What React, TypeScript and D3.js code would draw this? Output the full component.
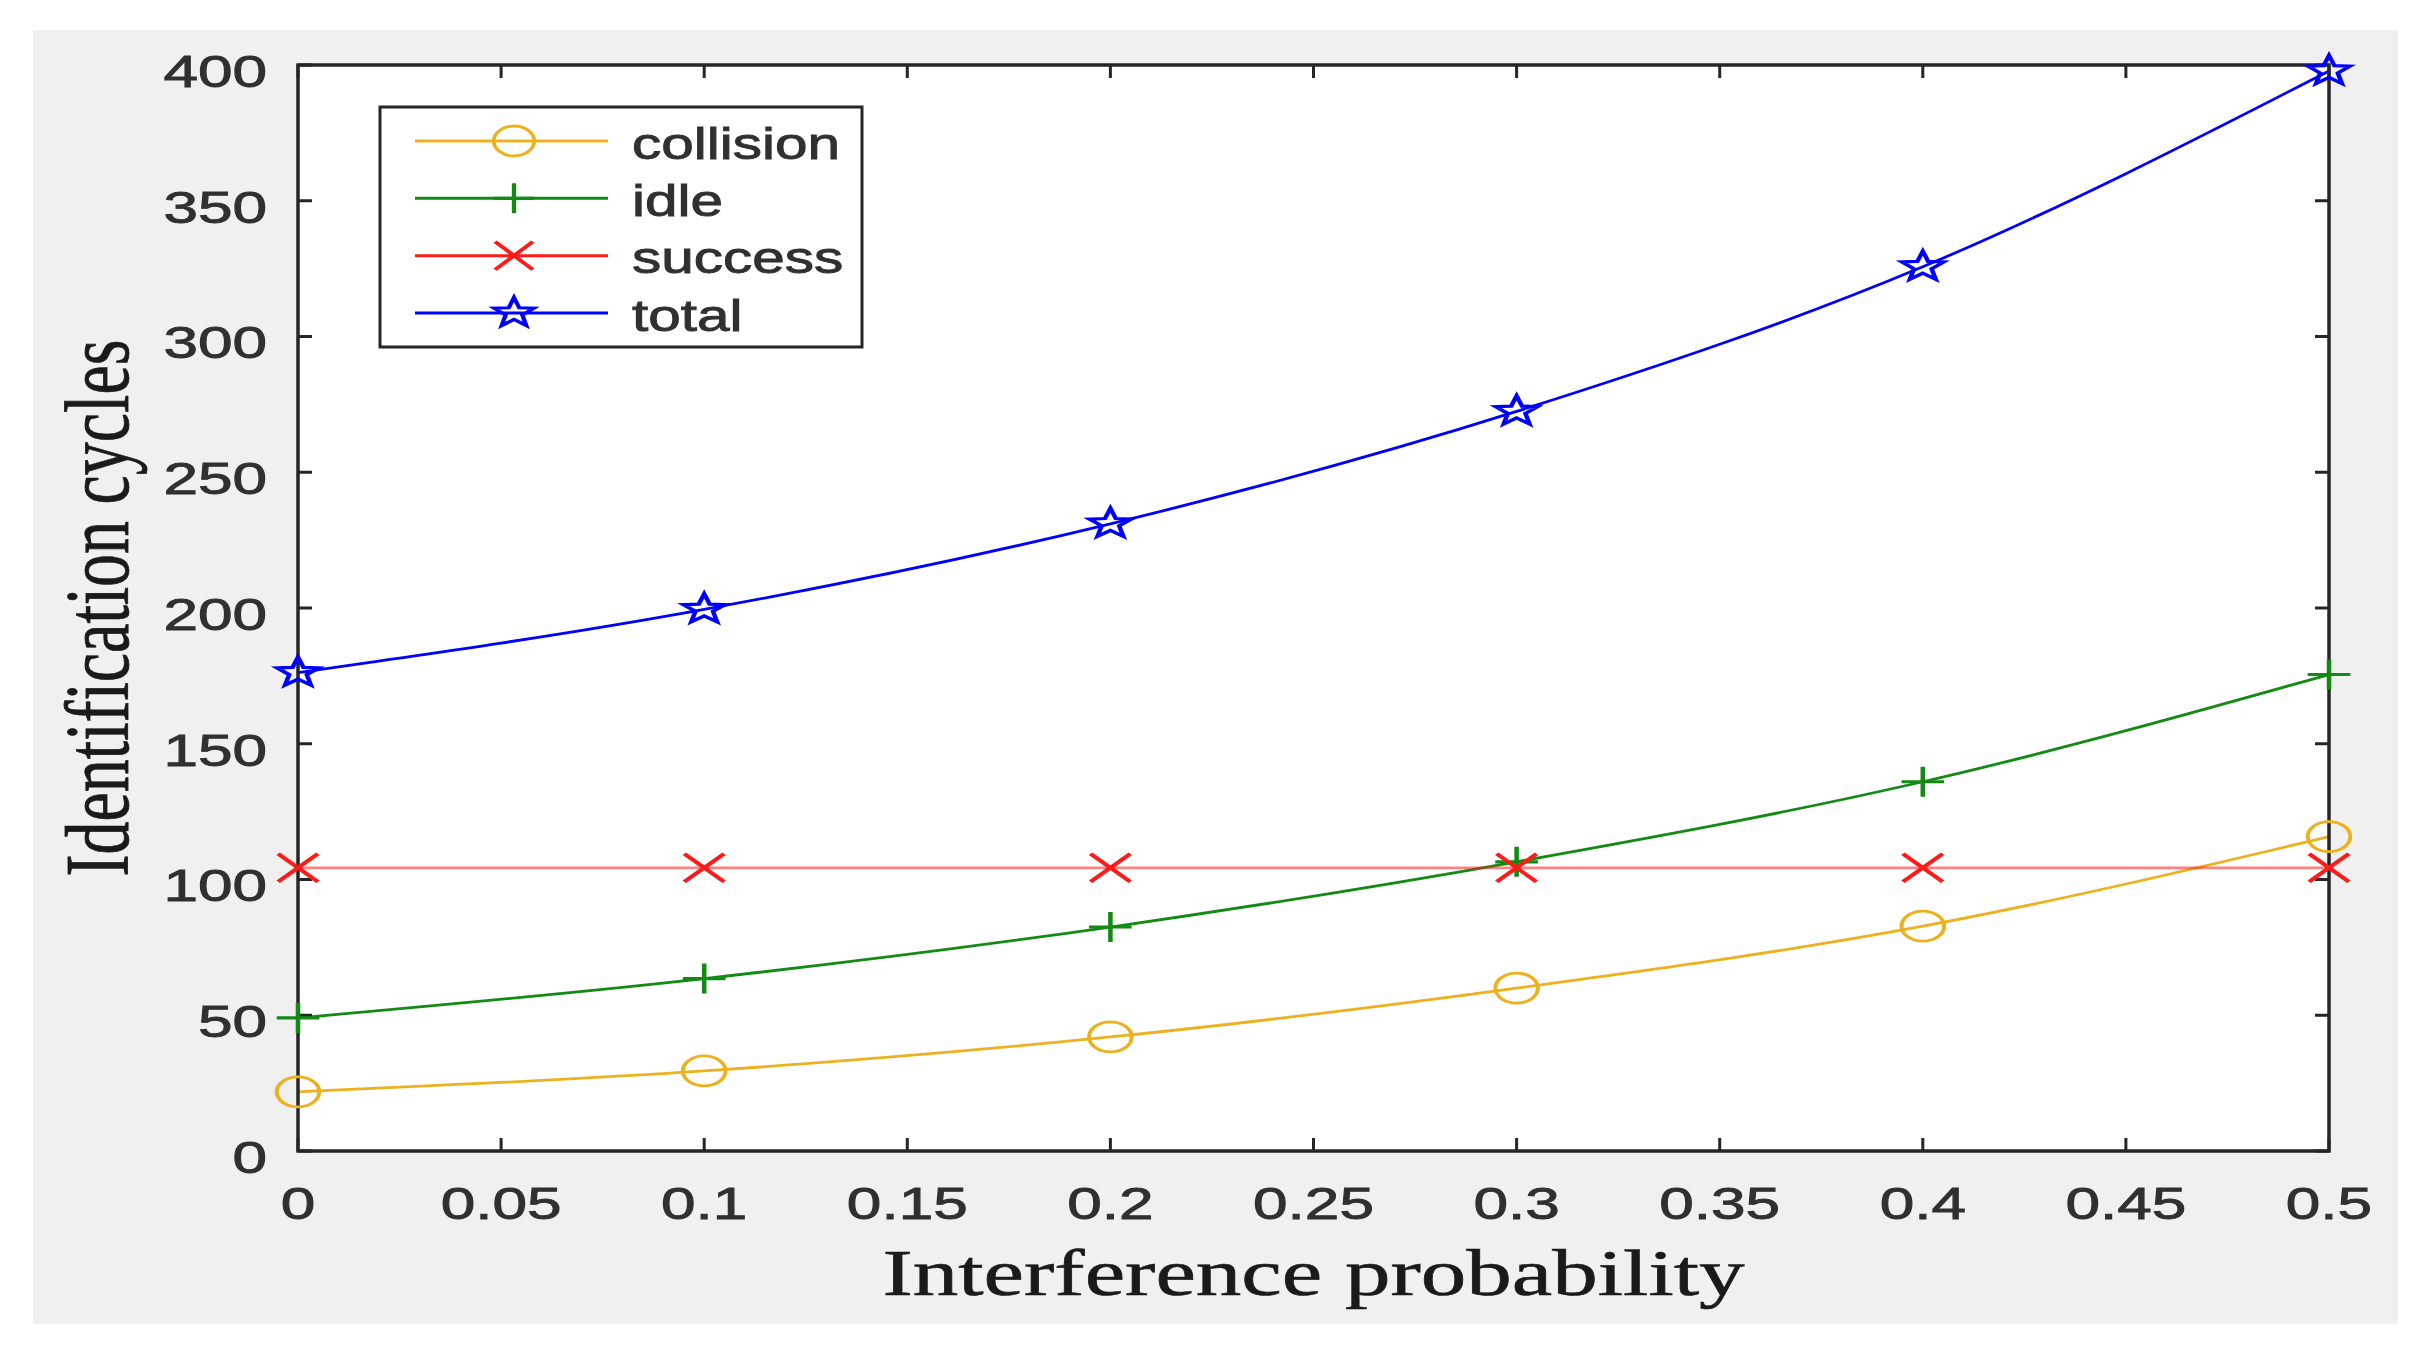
import React, { useEffect, useRef } from 'react'
import * as d3 from 'd3'

// interference probability (x) and the four counts per step
const xValues = [0, 0.1, 0.2, 0.3, 0.4, 0.5]
const collision = [21.8, 29.5, 42, 60, 82.8, 115.8]
const idle = [49, 63.5, 82.5, 106.5, 136, 175.5]
const success = [104.3, 104.3, 104.3, 104.3, 104.3, 104.3]
const total = [176.2, 199.5, 231, 272.4, 325.7, 397.8]

const seriesNames = ['collision', 'idle', 'success', 'total']
const seriesValues = [collision, idle, success, total]
const seriesColors = ['#EDB120', '#138a13', '#ff1a1a', '#0000ff']
const seriesMarkers = ['circle', 'plus', 'cross', 'star']

const xTicks = [0, 0.05, 0.1, 0.15, 0.2, 0.25, 0.3, 0.35, 0.4, 0.45, 0.5]
const xTickLabels = ['0', '0.05', '0.1', '0.15', '0.2', '0.25', '0.3', '0.35', '0.4', '0.45', '0.5']
const yTicks = [0, 50, 100, 150, 200, 250, 300, 350, 400]
const yTickLabels = ['0', '50', '100', '150', '200', '250', '300', '350', '400']

const xLabel = 'Interference probability'
const yLabel = 'Identification cycles'

const W = 2431
const H = 1362
const plot = { left: 298, right: 2329, top: 65, bottom: 1151 }
const sx = 1.38 // the original picture is stretched sideways
const sansFont = '"Liberation Sans", Arial, Helvetica, sans-serif'
const serifFont = '"Liberation Serif", "Times New Roman", serif'

// 5-point star outline, radius r
const starPath = (r: number) => {
    const pts: string[] = []
    for (let i = 0; i < 10; i++) {
        const rr = i % 2 === 0 ? r : r * 0.42
        const a = -Math.PI / 2 + (i * Math.PI) / 5
        pts.push(`${(rr * Math.cos(a)).toFixed(2)},${(rr * Math.sin(a)).toFixed(2)}`)
    }
    return `M${pts.join('L')}Z`
}

const drawMarker = (
    g: d3.Selection<SVGGElement, unknown, null, undefined>,
    kind: string,
    color: string
) => {
    const common = (s: any) =>
        s.attr('fill', 'none').attr('stroke', color).attr('stroke-width', 2.8)
    if (kind === 'circle') {
        common(g.append('circle').attr('r', 15))
    } else if (kind === 'plus') {
        common(g.append('path').attr('d', 'M-15,0H15M0,-15V15')).attr('stroke-width', 3.2)
    } else if (kind === 'cross') {
        common(g.append('path').attr('d', 'M-14,-14L14,14M-14,14L14,-14')).attr('stroke-width', 3.4)
    } else {
        common(g.append('path').attr('d', starPath(15.5))).attr('stroke-width', 3.2)
    }
}

const App: React.FC = () => {
    const svgRef = useRef<SVGSVGElement | null>(null)

    useEffect(() => {
        if (!svgRef.current) return
        const svg = d3.select(svgRef.current)
        svg.selectAll('*').remove()

        const x = d3.scaleLinear().domain([0, 0.5]).range([plot.left, plot.right])
        const y = d3.scaleLinear().domain([0, 400]).range([plot.bottom, plot.top])

        // figure background
        svg.append('rect').attr('width', W).attr('height', H).attr('fill', '#ffffff')
        svg.append('rect')
            .attr('x', 33)
            .attr('y', 30)
            .attr('width', 2398 - 33)
            .attr('height', 1324 - 30)
            .attr('fill', '#f0f0f0')
        svg.append('rect')
            .attr('x', plot.left)
            .attr('y', plot.top)
            .attr('width', plot.right - plot.left)
            .attr('height', plot.bottom - plot.top)
            .attr('fill', '#ffffff')

        // lines
        const line = d3
            .line<number>()
            .x((_, i) => x(xValues[i]))
            .y((d) => y(d))
            .curve(d3.curveMonotoneX)

        seriesValues.forEach((vals, si) => {
            svg.append('path')
                .datum(vals)
                .attr('fill', 'none')
                .attr('stroke', seriesColors[si])
                .attr('stroke-opacity', seriesNames[si] === 'success' ? 0.55 : 1)
                .attr('stroke-width', 2.8)
                .attr('d', line)
        })

        // box + ticks
        const ax = svg.append('g').attr('stroke', '#262626').attr('stroke-width', 3)
        ax.append('rect')
            .attr('x', plot.left)
            .attr('y', plot.top)
            .attr('width', plot.right - plot.left)
            .attr('height', plot.bottom - plot.top)
            .attr('fill', 'none')
            .attr('stroke-width', 3.5)
        xTicks.forEach((t) => {
            ax.append('line').attr('x1', x(t)).attr('x2', x(t)).attr('y1', plot.bottom).attr('y2', plot.bottom - 13)
            ax.append('line').attr('x1', x(t)).attr('x2', x(t)).attr('y1', plot.top).attr('y2', plot.top + 13)
        })
        yTicks.forEach((t) => {
            ax.append('line').attr('y1', y(t)).attr('y2', y(t)).attr('x1', plot.left).attr('x2', plot.left + 14)
            ax.append('line').attr('y1', y(t)).attr('y2', y(t)).attr('x1', plot.right).attr('x2', plot.right - 14)
        })

        // markers
        seriesValues.forEach((vals, si) => {
            vals.forEach((v, i) => {
                const g = svg
                    .append('g')
                    .attr('transform', `translate(${x(xValues[i])},${y(v)}) scale(1.42,1)`)
                drawMarker(g, seriesMarkers[si], seriesColors[si])
            })
        })

        // tick labels (slight stroke: the scan is heavy)
        xTicks.forEach((t, i) => {
            svg.append('text')
                .attr('transform', `translate(${x(t)},1219) scale(${sx},1)`)
                .attr('text-anchor', 'middle')
                .attr('font-family', sansFont)
                .attr('font-size', 45)
                .attr('fill', '#303030')
                .attr('stroke', '#303030')
                .attr('stroke-width', 0.9)
                .text(xTickLabels[i])
        })
        yTicks.forEach((t, i) => {
            svg.append('text')
                .attr('transform', `translate(267,${y(t) + 6}) scale(${sx},1)`)
                .attr('text-anchor', 'end')
                .attr('dominant-baseline', 'central')
                .attr('font-family', sansFont)
                .attr('font-size', 45)
                .attr('fill', '#303030')
                .attr('stroke', '#303030')
                .attr('stroke-width', 0.9)
                .text(yTickLabels[i])
        })

        // axis titles
        svg.append('text')
            .attr('transform', `translate(${(plot.left + plot.right) / 2},1295) scale(${sx},1)`)
            .attr('text-anchor', 'middle')
            .attr('font-family', serifFont)
            .attr('font-size', 66)
            .attr('fill', '#1a1a1a')
            .attr('stroke', '#1a1a1a')
            .attr('stroke-width', 0.6)
            .text(xLabel)
        svg.append('text')
            .attr('transform', `translate(128,${(plot.top + plot.bottom) / 2}) scale(${sx},1) rotate(-90)`)
            .attr('text-anchor', 'middle')
            .attr('font-family', serifFont)
            .attr('font-size', 66)
            .attr('fill', '#1a1a1a')
            .attr('stroke', '#1a1a1a')
            .attr('stroke-width', 0.6)
            .text(yLabel)

        // legend
        const lg = svg.append('g')
        lg.append('rect')
            .attr('x', 380)
            .attr('y', 107)
            .attr('width', 862 - 380)
            .attr('height', 347 - 107)
            .attr('fill', '#ffffff')
            .attr('stroke', '#262626')
            .attr('stroke-width', 3)
        const rowY = d3.scalePoint<string>().domain(seriesNames).range([141, 313])
        seriesNames.forEach((name, si) => {
            const ry = rowY(name) as number
            lg.append('line')
                .attr('x1', 415)
                .attr('x2', 608)
                .attr('y1', ry)
                .attr('y2', ry)
                .attr('stroke', seriesColors[si])
                .attr('stroke-width', 3)
            const g = lg.append('g').attr('transform', `translate(514,${ry}) scale(1.35,1)`)
            drawMarker(g, seriesMarkers[si], seriesColors[si])
            lg.append('text')
                .attr('transform', `translate(632,${ry + 2}) scale(1.3,1)`)
                .attr('dominant-baseline', 'central')
                .attr('font-family', sansFont)
                .attr('font-size', 45)
                .attr('fill', '#303030')
                .attr('stroke', '#303030')
                .attr('stroke-width', 0.9)
                .text(name)
        })
    }, [])

    return (
        <svg
            ref={svgRef}
            width={W}
            height={H}
            style={{ position: 'absolute', left: 0, top: 0, display: 'block' }}
        ></svg>
    )
}

export default App
